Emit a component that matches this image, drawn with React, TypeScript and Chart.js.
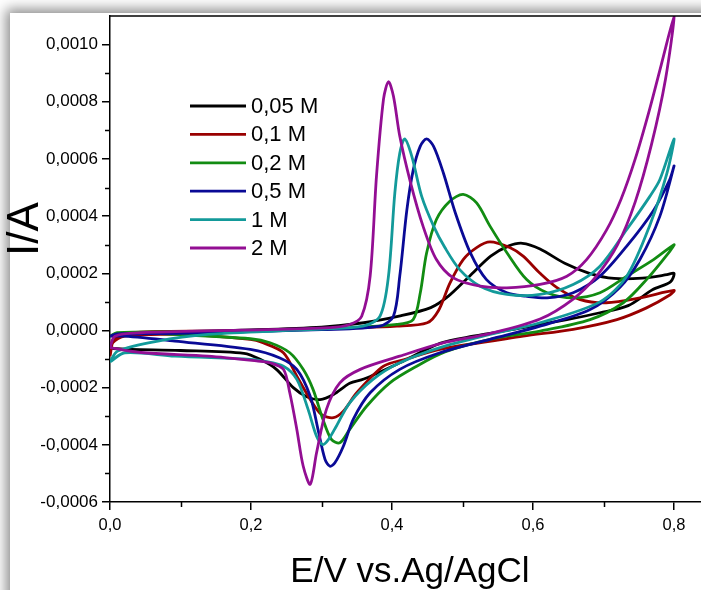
import React, { useEffect, useRef } from 'react';
import { Chart, registerables } from 'chart.js';

Chart.register(...registerables);

// ---- data (E in V vs Ag/AgCl, I in A); each series: forward scan then reverse scan ----
const seriesLabels = ['0,05 M', '0,1 M', '0,2 M', '0,5 M', '1 M', '2 M'];
const seriesColors = ['#000000', '#990000', '#128c12', '#0a0a96', '#139a9a', '#930e93'];

const cv005: [number, number][] = [
  [0, -0.00006], [0.008, -0.00002], [0.03, -0.000008], [0.1, -0.000004], [0.2, 0.000002], [0.3, 0.000012],
  [0.36, 0.000027], [0.41, 0.00005], [0.455, 0.00008], [0.48, 0.00012], [0.51, 0.00019], [0.54, 0.00026],
  [0.565, 0.000295], [0.585, 0.000305], [0.61, 0.000285], [0.645, 0.000235], [0.68, 0.0002], [0.715, 0.000182],
  [0.755, 0.000183], [0.79, 0.000195], [0.8, 0.0002],
  [0.795, 0.00017], [0.77, 0.000143], [0.735, 0.000087], [0.695, 0.000062], [0.648, 0.000038], [0.586, 0.00001],
  [0.515, -0.00002], [0.468, -0.000045], [0.411, -0.000113], [0.36, -0.00017], [0.34, -0.000185], [0.317, -0.000224],
  [0.298, -0.000242], [0.279, -0.000232], [0.26, -0.0002], [0.236, -0.000136], [0.213, -0.000101], [0.19, -0.00008],
  [0.1, -0.00007], [0.03, -0.000066], [0.005, -0.000063], [0, -0.00006],
];

const cv01: [number, number][] = [
  [0, -0.00009], [0.006, -0.00003], [0.03, -0.000008], [0.15, -0.000002], [0.3, 0.000005], [0.407, 0.000015],
  [0.45, 0.000027], [0.466, 0.00007], [0.482, 0.000165], [0.501, 0.000248], [0.52, 0.00029], [0.539, 0.00031],
  [0.567, 0.00029], [0.586, 0.00026], [0.61, 0.0002], [0.634, 0.00015], [0.667, 0.000108], [0.704, 0.000097],
  [0.752, 0.000114], [0.8, 0.00014],
  [0.794, 0.000124], [0.761, 0.000079], [0.719, 0.000038], [0.657, 0.000004], [0.586, -0.00002], [0.468, -0.000066],
  [0.42, -0.0001], [0.388, -0.000125], [0.35, -0.000218], [0.331, -0.000282], [0.317, -0.000305], [0.3, -0.000294],
  [0.284, -0.000241], [0.265, -0.00016], [0.246, -0.000078], [0.217, -0.000043], [0.199, -0.000031], [0.092, -0.000014],
  [0.021, -0.00002], [0.004, -0.000043], [0, -0.00009],
];

const cv02: [number, number][] = [
  [0, -0.00002], [0.01, -0.000008], [0.1, -0.000005], [0.3, 0.000005], [0.407, 0.000021], [0.43, 0.000038],
  [0.44, 0.00013], [0.449, 0.00027], [0.463, 0.000388], [0.482, 0.000452], [0.501, 0.000476], [0.52, 0.000446],
  [0.539, 0.000365], [0.563, 0.000272], [0.591, 0.000178], [0.62, 0.000132], [0.657, 0.000114], [0.695, 0.000132],
  [0.733, 0.00019], [0.771, 0.000248], [0.8, 0.0003],
  [0.794, 0.000277], [0.761, 0.000178], [0.728, 0.000097], [0.681, 0.000038], [0.61, -0.000002], [0.539, -0.000031],
  [0.475, -0.000075], [0.435, -0.000125], [0.397, -0.000183], [0.364, -0.000265], [0.34, -0.000346], [0.326, -0.000393],
  [0.314, -0.000381], [0.302, -0.000311], [0.288, -0.000206], [0.274, -0.000136], [0.255, -0.000078], [0.227, -0.000043],
  [0.199, -0.000029], [0.092, -0.000014], [0.021, -0.000008], [0, -0.00002],
];

const cv05: [number, number][] = [
  [0, -0.00002], [0.01, -0.000012], [0.1, -0.00001], [0.3, 0.000003], [0.383, 0.000015], [0.402, 0.00005],
  [0.411, 0.00019], [0.421, 0.00042], [0.43, 0.00056], [0.44, 0.000644], [0.449, 0.00067], [0.459, 0.000644],
  [0.473, 0.00055], [0.49, 0.00041], [0.511, 0.000272], [0.534, 0.000178], [0.563, 0.000132], [0.59, 0.00012],
  [0.62, 0.000114], [0.657, 0.000132], [0.695, 0.00019], [0.733, 0.000295], [0.771, 0.00042], [0.794, 0.000528],
  [0.8, 0.000575],
  [0.78, 0.0004], [0.752, 0.00025], [0.723, 0.00015], [0.681, 0.000073], [0.61, 0.000015], [0.539, -0.000031],
  [0.468, -0.000078], [0.411, -0.000136], [0.369, -0.000218], [0.345, -0.000311], [0.331, -0.000405], [0.319, -0.000463],
  [0.312, -0.000475], [0.305, -0.000451], [0.295, -0.000346], [0.284, -0.00023], [0.265, -0.000136], [0.241, -0.000096],
  [0.199, -0.000066], [0.092, -0.000037], [0.021, -0.00002], [0, -0.00002],
];

const cv1: [number, number][] = [
  [0, -0.00011], [0.011, -0.000072], [0.068, -0.000037], [0.139, -0.000014], [0.234, -0.000002], [0.3, 0.000005],
  [0.359, 0.000015], [0.383, 0.00005], [0.395, 0.00019], [0.404, 0.00048], [0.411, 0.00062], [0.418, 0.00067],
  [0.428, 0.00061], [0.442, 0.00047], [0.459, 0.000365], [0.475, 0.00029], [0.496, 0.000213], [0.525, 0.000155],
  [0.563, 0.000126], [0.61, 0.000126], [0.657, 0.000161], [0.695, 0.000225], [0.733, 0.000353], [0.766, 0.00047],
  [0.78, 0.000528], [0.8, 0.00067],
  [0.79, 0.00055], [0.766, 0.00037], [0.733, 0.00019], [0.695, 0.0001], [0.61, 0.000027], [0.539, -0.000014],
  [0.468, -0.00006], [0.411, -0.000113], [0.373, -0.000171], [0.34, -0.000253], [0.321, -0.000335], [0.31, -0.000381],
  [0.302, -0.000399], [0.293, -0.00037], [0.281, -0.000276], [0.265, -0.000171], [0.246, -0.000125], [0.217, -0.000107],
  [0.199, -0.000101], [0.092, -0.00009], [0.021, -0.000078], [0, -0.00011],
];

const cv2: [number, number][] = [
  [0, -0.00006], [0.007, -0.00002], [0.044, -0.000008], [0.186, 0.000001], [0.312, 0.00001], [0.34, 0.000021],
  [0.357, 0.00005], [0.369, 0.00019], [0.378, 0.00054], [0.388, 0.00081], [0.395, 0.00087], [0.402, 0.00082],
  [0.411, 0.00068], [0.426, 0.00052], [0.444, 0.000365], [0.463, 0.000248], [0.487, 0.000184], [0.525, 0.000155],
  [0.563, 0.000149], [0.61, 0.000161], [0.648, 0.00019], [0.676, 0.000248], [0.704, 0.00035], [0.725, 0.00046],
  [0.745, 0.0006], [0.765, 0.00077], [0.782, 0.00093], [0.8, 0.0011],
  [0.788, 0.00088], [0.768, 0.00065], [0.745, 0.00045], [0.72, 0.0003], [0.69, 0.00019], [0.657, 0.00011],
  [0.61, 0.00004], [0.54, -0.00001], [0.47, -0.000045], [0.411, -0.00009], [0.355, -0.000136], [0.326, -0.000183],
  [0.307, -0.000276], [0.293, -0.000428], [0.284, -0.000538], [0.274, -0.000474], [0.265, -0.000346], [0.255, -0.000218],
  [0.246, -0.000136], [0.227, -0.000113], [0.21, -0.000107], [0.139, -0.00009], [0.044, -0.000077], [0, -0.00006],
];

const seriesData = [cv005, cv01, cv02, cv05, cv1, cv2];

const xTicks = [0, 0.2, 0.4, 0.6, 0.8];
const xMinorTicks = [0.1, 0.3, 0.5, 0.7];
const yTicks = [-0.0006, -0.0004, -0.0002, 0, 0.0002, 0.0004, 0.0006, 0.0008, 0.001];
const yMinorTicks = [-0.0005, -0.0003, -0.0001, 0.0001, 0.0003, 0.0005, 0.0007, 0.0009];

const xTitle = 'E/V vs.Ag/AgCl';
const yTitle = 'I/A';

const FONT = "'Liberation Sans', Arial, sans-serif";
const CANVAS_W = 760;
const CANVAS_H = 590;

const decorPlugin = {
  id: 'decor',
  afterDraw(chart: any) {
    const { ctx, chartArea, scales } = chart;
    const xs = scales.x;
    const ys = scales.y;
    ctx.save();
    ctx.strokeStyle = '#000';
    ctx.lineWidth = 1.5;
    // top frame line
    ctx.beginPath();
    ctx.moveTo(chartArea.left, chartArea.top);
    ctx.lineTo(chartArea.right, chartArea.top);
    ctx.stroke();
    // minor ticks
    ctx.beginPath();
    xMinorTicks.forEach((v) => {
      const x = Math.round(xs.getPixelForValue(v)) + 0.5;
      ctx.moveTo(x, chartArea.bottom);
      ctx.lineTo(x, chartArea.bottom + 5);
    });
    yMinorTicks.forEach((v) => {
      const y = Math.round(ys.getPixelForValue(v)) + 0.5;
      ctx.moveTo(chartArea.left - 5, y);
      ctx.lineTo(chartArea.left, y);
    });
    ctx.stroke();

    // legend
    const lx0 = 190, lx1 = 246, ly0 = 106, dy = 28.4;
    chart.data.datasets.forEach((ds: any, i: number) => {
      const y = ly0 + i * dy;
      ctx.strokeStyle = ds.borderColor;
      ctx.lineWidth = 2.8;
      ctx.beginPath();
      ctx.moveTo(lx0, y);
      ctx.lineTo(lx1, y);
      ctx.stroke();
      ctx.fillStyle = '#000';
      ctx.font = `22px ${FONT}`;
      ctx.textAlign = 'left';
      ctx.textBaseline = 'middle';
      ctx.fillText(ds.label, lx1 + 5, y + 1);
    });

    // axis titles
    ctx.fillStyle = '#000';
    ctx.font = `35px ${FONT}`;
    ctx.textAlign = 'center';
    ctx.textBaseline = 'alphabetic';
    ctx.fillText(xTitle, 410, 582);

    ctx.translate(26, 229);
    ctx.rotate(-Math.PI / 2);
    ctx.font = `44px ${FONT}`;
    ctx.textBaseline = 'middle';
    ctx.fillText(yTitle, 0, 0);
    ctx.restore();
  },
};

export default function App() {
  const ref = useRef<HTMLCanvasElement | null>(null);

  useEffect(() => {
    if (!ref.current) return;
    const chart = new Chart(ref.current, {
      type: 'scatter',
      data: {
        datasets: seriesData.map((pts, i) => ({
          label: seriesLabels[i],
          data: pts.map(([e, c]) => ({ x: e, y: c })),
          showLine: true,
          borderColor: seriesColors[i],
          backgroundColor: seriesColors[i],
          borderWidth: 2.8,
          pointRadius: 0,
          tension: 0.3,
          order: seriesData.length - i,
        })),
      },
      options: {
        animation: false,
        responsive: false,
        maintainAspectRatio: false,
        layout: { padding: { left: 0, top: 16, right: CANVAS_W - 709.25, bottom: 0 } },
        plugins: { legend: { display: false }, tooltip: { enabled: false } },
        scales: {
          x: {
            type: 'linear',
            min: 0,
            max: 0.85,
            afterBuildTicks: (s: any) => {
              s.ticks = xTicks.map((v) => ({ value: v }));
            },
            afterFit: (s: any) => {
              s.height = 88;
            },
            ticks: {
              callback: (v: any) => Number(v).toFixed(1).replace('.', ','),
              font: { family: FONT, size: 16.5 },
              color: '#000',
              padding: 6,
              maxRotation: 0,
              autoSkip: false,
            },
            grid: { display: true, drawOnChartArea: false, drawTicks: true, tickLength: 8, color: '#000', lineWidth: 1.5 },
            border: { display: true, color: '#000', width: 1.5 },
          },
          y: {
            type: 'linear',
            min: -0.0006,
            max: 0.0011,
            afterBuildTicks: (s: any) => {
              s.ticks = yTicks.map((v) => ({ value: v }));
            },
            afterFit: (s: any) => {
              s.width = 110;
            },
            ticks: {
              callback: (v: any) => Number(v).toFixed(4).replace('.', ','),
              font: { family: FONT, size: 17 },
              color: '#000',
              padding: 4,
              autoSkip: false,
            },
            grid: { display: true, drawOnChartArea: false, drawTicks: true, tickLength: 8, color: '#000', lineWidth: 1.5 },
            border: { display: true, color: '#000', width: 1.5 },
          },
        },
      },
      plugins: [decorPlugin],
    });
    return () => chart.destroy();
  }, []);

  return (
    <div style={{ position: 'fixed', left: 0, top: 0, width: 701, height: 590, overflow: 'hidden', background: '#fff' }}>
      <div
        style={{
          position: 'absolute',
          left: 10,
          top: 13,
          width: 820,
          height: 700,
          background: '#fff',
          boxShadow: '0 0 12px 4px rgba(0,0,0,0.45)',
        }}
      />
      <canvas
        ref={ref}
        width={CANVAS_W}
        height={CANVAS_H}
        style={{ position: 'absolute', left: 0, top: 0, width: CANVAS_W, height: CANVAS_H }}
      />
    </div>
  );
}
